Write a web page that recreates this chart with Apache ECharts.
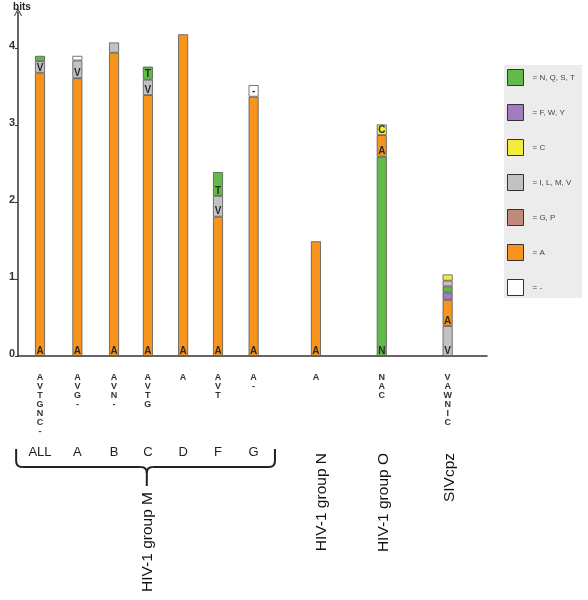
<!DOCTYPE html>
<html><head><meta charset="utf-8">
<script src="https://cdn.jsdelivr.net/npm/echarts@6/dist/echarts.min.js"></script>
<style>html,body{margin:0;padding:0;background:#fff}#c{width:588px;height:600px}</style>
</head><body><div id="c"></div>
<script>
// ---------- data ----------
const subgroups = ['ALL','A','B','C','D','F','G','N','O','SIVcpz'];
const subgroupTickLabels = ['ALL','A','B','C','D','F','G'];
const groupNames = ['HIV-1 group M','HIV-1 group N','HIV-1 group O','SIVcpz'];
const residueColumns = ['AVTGNC-','AVG-','AVN-','AVTG','A','AVT','A-','A','NAC','VAWNIC'];
const stackLetters = [
  ['A','V','T'], ['A','V','-'], ['A','V'], ['A','V','T'], ['A'],
  ['A','V','T'], ['A','-'], ['A'], ['N','A','C'], ['V','A','W','N','I','C']
];
const stackBits = [
  [3.68,0.15,0.07], [3.61,0.23,0.06], [3.94,0.134], [3.39,0.20,0.17], [4.18],
  [1.81,0.27,0.31], [3.37,0.15], [1.49], [2.59,0.28,0.139], [0.39,0.34,0.095,0.08,0.074,0.08]
];
const yTickValues = [0,1,2,3,4];
const legendLabels = ['= N, Q, S, T','= F, W, Y','= C','= I, L, M, V','= G, P','= A','= -'];
const legendResidues = ['NQST','FWY','C','ILMV','GP','A','-'];

// ---------- layout / style ----------
const slotX = [0,1.05,2.08,3.03,4.02,5,6,7.75,9.6,11.45];
const groupLabelX = [3.03,7.9,9.66,11.5];
const groupColors = ['#63bb47','#a07cc0','#f3ec3b','#c2c2c2','#c18b79','#f7941e','#ffffff'];
function colorOf(letter){
  const i = legendResidues.findIndex(g => g.indexOf(letter) >= 0);
  return groupColors[i];
}
function idxOf(arr, v){ return arr.findIndex(p => Math.abs(p - v) < 1e-6); }

const X_MIN = -0.618, X_MAX = 12.556;
const maxLayers = Math.max(...stackBits.map(s => s.length));
const series = [];
for (let k = 0; k < maxLayers; k++) {
  series.push({
    type: 'bar', name: 'layer' + k, stack: 'logo', barWidth: 10,
    xAxisIndex: 0, yAxisIndex: 0, silent: true,
    // value first so that it is the stacked dimension
    encode: { y: 0, x: 1 },
    itemStyle: { borderColor: '#555', borderWidth: 0.8 },
    label: {
      position: 'insideBottom', distance: 0, formatter: '{b}',
      fontFamily: 'Liberation Sans', fontWeight: 'bold', fontSize: 10, color: '#2a2a2a'
    },
    data: subgroups.map((s, i) => {
      const v = stackBits[i][k];
      if (v == null) return { value: ['-', slotX[i]] };
      const letter = stackLetters[i][k];
      return {
        name: letter, value: [v, slotX[i]],
        itemStyle: { color: colorOf(letter) },
        label: { show: v >= 0.137 }
      };
    })
  });
}
legendLabels.forEach((name, i) => {
  series.push({
    type: 'bar', name, stack: 'logo', barWidth: 10, data: [],
    encode: { y: 0, x: 1 },
    itemStyle: { color: groupColors[i], borderColor: '#333', borderWidth: 1 }
  });
});

const baseX = { type: 'value', min: X_MIN, max: X_MAX, gridIndex: 0, position: 'bottom',
  splitLine: { show: false }, axisTick: { show: false } };

const option = {
  animation: false,
  backgroundColor: '#ffffff',
  grid: { left: 18, right: 101, top: 12, bottom: 244, containLabel: false },
  legend: {
    data: legendLabels, orient: 'vertical', left: 504, top: 65,
    itemWidth: 16, itemHeight: 16, itemGap: 18, icon: 'rect',
    selectedMode: false, backgroundColor: '#ececec', padding: [4, 7, 2, 3],
    itemStyle: { borderColor: '#333', borderWidth: 1 },
    textStyle: { fontFamily: 'Liberation Sans', fontSize: 8, color: '#444', padding: [0,0,0,4] }
  },
  xAxis: [
    Object.assign({}, baseX, {
      axisLine: { show: true, onZero: false, lineStyle: { color: '#333', width: 1.5 } },
      axisLabel: {
        show: true, customValues: slotX, margin: 17, interval: 0,
        fontFamily: 'Liberation Sans', fontWeight: 'bold', fontSize: 9, lineHeight: 9, color: '#333',
        verticalAlign: 'top',
        formatter: v => { const i = idxOf(slotX, v); return i < 0 ? '' : residueColumns[i].split('').join('\n'); }
      }
    }),
    Object.assign({}, baseX, {
      axisLine: { show: false },
      axisLabel: {
        show: true, customValues: slotX.slice(0, subgroupTickLabels.length), margin: 90,
        fontFamily: 'Liberation Sans', fontSize: 13, color: '#222',
        formatter: v => { const i = idxOf(slotX, v); return i < 0 ? '' : subgroupTickLabels[i]; }
      }
    }),
    Object.assign({}, baseX, {
      axisLine: { show: false },
      axisLabel: {
        show: true, customValues: groupLabelX.slice(0, 1), margin: 136, rotate: 90,
        fontFamily: 'Liberation Sans', fontSize: 15.5, color: '#111',
        formatter: v => { const i = idxOf(groupLabelX, v); return i < 0 ? '' : groupNames[i]; }
      }
    }),
    Object.assign({}, baseX, {
      axisLine: { show: false },
      axisLabel: {
        show: true, customValues: groupLabelX.slice(1), margin: 97, rotate: 90,
        fontFamily: 'Liberation Sans', fontSize: 15.5, color: '#111',
        formatter: v => { const i = idxOf(groupLabelX, v); return i < 0 ? '' : groupNames[i]; }
      }
    })
  ],
  yAxis: {
    type: 'value', min: 0, max: 4.47,
    name: 'bits', nameLocation: 'end', nameGap: 0,
    nameTextStyle: { fontFamily: 'Liberation Sans', fontWeight: 'bold', fontSize: 10, color: '#222', padding: [0,0,0,8] },
    splitLine: { show: false },
    axisLine: { show: true, onZero: false, lineStyle: { color: '#333', width: 1.5 },
      symbol: ['none', 'path://M0,10 L5,0 L10,10 L8.8,10 L5,2.4 L1.2,10 Z'], symbolSize: [8, 11] },
    axisTick: { show: true, customValues: yTickValues, length: 3, inside: false, lineStyle: { color: '#333' } },
    axisLabel: { show: true, customValues: yTickValues, margin: 3, verticalAlign: 'bottom', lineHeight: 4,
      fontFamily: 'Liberation Sans', fontWeight: 'bold', fontSize: 11, color: '#333',
      formatter: v => String(v) }
  },
  series
};

const chart = echarts.init(document.getElementById('c'), null, { renderer: 'canvas' });
chart.setOption(option);

// brace under HIV-1 group M
const px = v => chart.convertToPixel({ xAxisIndex: 0 }, v);
const base = chart.convertToPixel({ yAxisIndex: 0 }, 0);
const xl = px(-0.67), xr = px(6.6), xm = px(3.0);
const t = base + 93, h = base + 111, b = base + 130, r = 6;
const st = { stroke: '#222', lineWidth: 2, fill: null };
const L = (x1, y1, x2, y2) => ({ type: 'line', silent: true, shape: { x1, y1, x2, y2 }, style: st });
const Q = (x1, y1, cx, cy, x2, y2) => ({ type: 'bezierCurve', silent: true,
  shape: { x1, y1, cpx1: cx, cpy1: cy, x2, y2 }, style: st });
chart.setOption({
  graphic: [
    L(xl, t, xl, h - r), Q(xl, h - r, xl, h, xl + r, h), L(xl + r, h, xm - r, h),
    Q(xm - r, h, xm, h, xm, h + r), L(xm, h + r, xm, b),
    Q(xm, h + r, xm, h, xm + r, h), L(xm + r, h, xr - r, h),
    Q(xr - r, h, xr, h, xr, h - r), L(xr, h - r, xr, t)
  ]
});
</script></body></html>
